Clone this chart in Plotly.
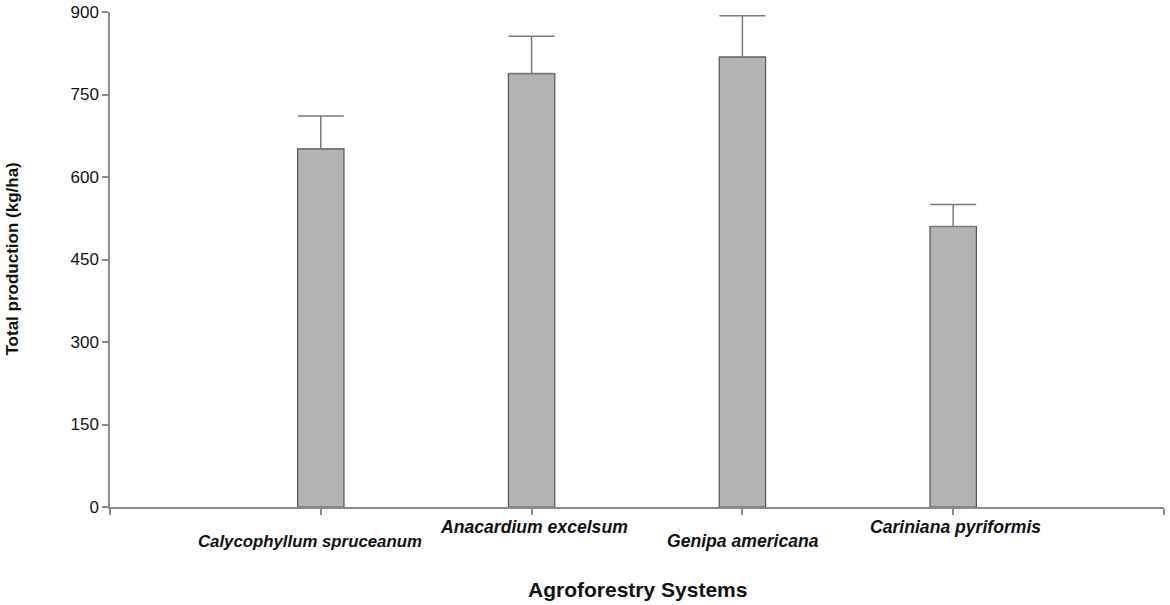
import plotly.graph_objects as go

categories = ["Calycophyllum spruceanum", "Anacardium excelsum", "Genipa americana", "Cariniana pyriformis"]
production = [651, 788, 818, 510]
errors = [60, 68, 75, 40]
y_ticks = [0, 150, 300, 450, 600, 750, 900]

positions = list(range(len(categories)))

fig = go.Figure()
fig.add_trace(go.Bar(
    x=positions,
    y=production,
    width=0.22,
    marker=dict(color="#b3b3b3", line=dict(color="#555555", width=1.2)),
    error_y=dict(type="data", symmetric=False, array=errors,
                 arrayminus=[0] * len(errors),
                 color="#7a7a7a", thickness=1.5, width=23),
    showlegend=False,
    hoverinfo="skip",
))

font_family = "Liberation Sans, Arial, sans-serif"

label_rows = [-34, -20, -34, -20]
label_xshift = [-11, 2, 1, 2]
label_sizes = [16.8, 17.6, 17.6, 17.6]
for i, name in enumerate(categories):
    fig.add_annotation(
        x=positions[i], y=0, xref="x", yref="y",
        text=f"<b><i>{name}</i></b>", showarrow=False,
        yanchor="middle", xanchor="center",
        yshift=label_rows[i], xshift=label_xshift[i],
        font=dict(family=font_family, size=label_sizes[i], color="#111111"),
    )

# axis titles
fig.add_annotation(
    x=0.5, y=0, xref="paper", yref="paper",
    text="<b>Agroforestry Systems</b>", showarrow=False,
    xanchor="center", yanchor="middle", yshift=-82,
    font=dict(family=font_family, size=21, color="#111111"),
)
fig.add_annotation(
    x=0, y=0.5, xref="paper", yref="paper",
    text="<b>Total production (kg/ha)</b>", showarrow=False,
    xanchor="center", yanchor="middle", xshift=-98, textangle=-90,
    font=dict(family=font_family, size=17, color="#111111"),
)

fig.update_layout(
    width=1170, height=605,
    margin=dict(l=110, r=6, t=12, b=98),
    paper_bgcolor="white", plot_bgcolor="white",
    font=dict(family=font_family, size=15, color="#111111"),
    xaxis=dict(
        range=[-1, 4],
        tickvals=[-1] + positions + [4],
        ticktext=[""] * (len(positions) + 2),
        showline=True, linecolor="#8c8c8c", linewidth=1.5,
        ticks="outside", ticklen=6, tickcolor="#8c8c8c", tickwidth=1.5,
        showgrid=False, zeroline=False, automargin=False,
    ),
    yaxis=dict(
        range=[0, 900],
        tickvals=y_ticks,
        showline=True, linecolor="#8c8c8c", linewidth=1.5,
        ticks="outside", ticklen=6, tickcolor="#8c8c8c", tickwidth=1.5,
        showgrid=False, zeroline=False, automargin=False,
        tickfont=dict(size=17, family=font_family, color="#111111"),
    ),
)

fig.write_html(
    "out.html",
    config={"displayModeBar": False},
    post_script="document.body.style.margin='0';document.body.style.overflow='hidden';",
)
